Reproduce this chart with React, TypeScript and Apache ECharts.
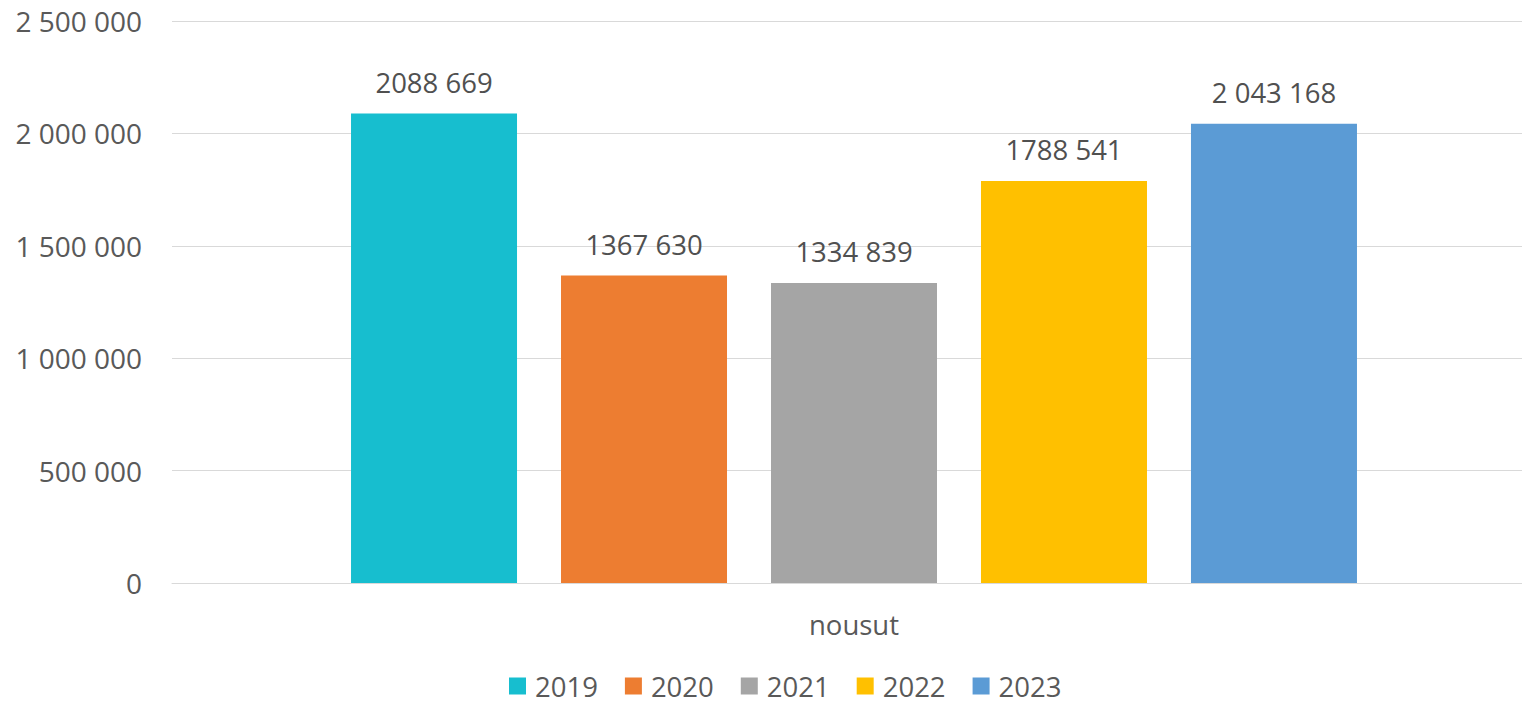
import React, { useEffect, useRef } from "react";
import * as echarts from "echarts";

const categories = ["nousut"];
const years = ["2019", "2020", "2021", "2022", "2023"];
const values = [2088669, 1367630, 1334839, 1788541, 2043168];
const valueLabels = ["2088 669", "1367 630", "1334 839", "1788 541", "2 043 168"];
const colors = ["#17BECF", "#ED7D31", "#A5A5A5", "#FFC000", "#5B9BD5"];
const yTicks = [0, 500000, 1000000, 1500000, 2000000, 2500000];

const fmt = (v: number) =>
  String(v).replace(/\B(?=(\d{3})+(?!\d))/g, " ");

export default function App() {
  const ref = useRef<HTMLDivElement>(null);
  useEffect(() => {
    if (!ref.current) return;
    const chart = echarts.init(ref.current, undefined, { renderer: "svg" });
    const font = "'Open Sans', sans-serif";
    chart.setOption({
      animation: false,
      textStyle: { fontFamily: font },
      grid: { left: 172, right: 0, top: 21, bottom: 119, containLabel: false },
      legend: {
        bottom: 2,
        left: 509,
        padding: 0,
        itemWidth: 17,
        itemHeight: 17,
        itemGap: 27,
        icon: "rect",
        textStyle: {
          fontSize: 27.5,
          lineHeight: 28,
          color: "#595959",
          fontFamily: font,
          padding: [0, 0, 0, 4],
        },
        data: years,
      },
      xAxis: {
        type: "category",
        data: categories,
        axisLine: { show: true, lineStyle: { color: "#D9D9D9", width: 1 } },
        axisTick: { show: false },
        axisLabel: { fontSize: 27.5, color: "#595959", margin: 27, fontFamily: font },
      },
      yAxis: {
        type: "value",
        min: yTicks[0],
        max: yTicks[yTicks.length - 1],
        interval: 500000,
        axisLine: { show: false },
        axisTick: { show: false },
        splitLine: { lineStyle: { color: "#D9D9D9", width: 1 } },
        axisLabel: {
          fontSize: 28,
          color: "#595959",
          margin: 30,
          fontFamily: font,
          formatter: (v: number) => fmt(v),
        },
      },
      series: years.map((y, i) => ({
        name: y,
        type: "bar",
        data: [values[i]],
        barWidth: 166,
        barGap: "26.5%",
        itemStyle: { color: colors[i] },
        label: {
          show: true,
          position: "top",
          distance: 17,
          fontSize: 27.5,
          color: "#505050",
          fontFamily: font,
          formatter: () => valueLabels[i],
        },
      })),
    });
    return () => chart.dispose();
  }, []);
  return (
    <div style={{ width: 1522, height: 702, position: "absolute", left: 0, top: 0, overflow: "hidden" }}>
      <div ref={ref} style={{ width: 1536, height: 702, position: "absolute", left: 0, top: 0 }} />
    </div>
  );
}
